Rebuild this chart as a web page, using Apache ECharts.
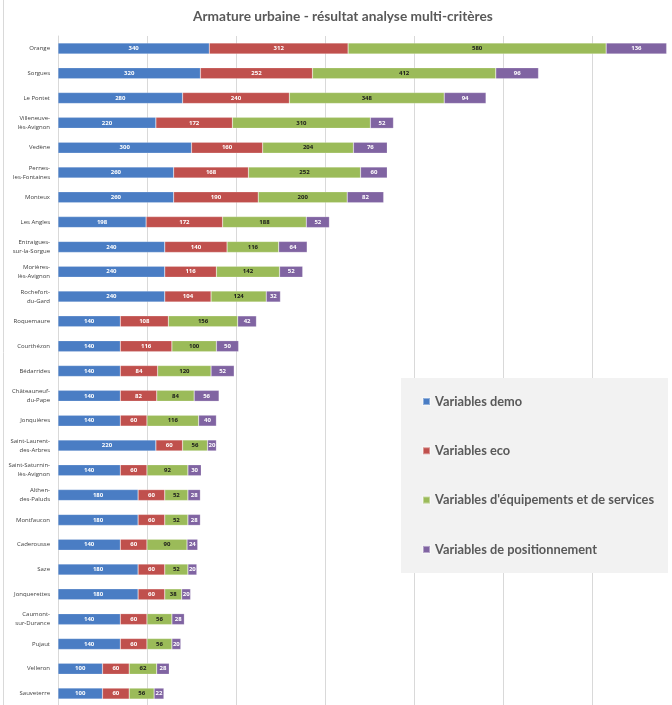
<!DOCTYPE html>
<html>
<head>
<meta charset="utf-8">
<script src="https://cdn.jsdelivr.net/npm/echarts@6/dist/echarts.min.js"></script>
<style>html,body{margin:0;padding:0;background:#fff;}#c{width:672px;height:705px;}</style>
</head>
<body>
<div id="c"></div>
<script>
const categories = [
  "Orange", "Sorgues", "Le Pontet", "Villeneuve-\nlès-Avignon", "Vedène",
  "Pernes-\nles-Fontaines", "Monteux", "Les Angles", "Entraigues-\nsur-la-Sorgue",
  "Morières-\nlès-Avignon", "Rochefort-\ndu-Gard", "Roquemaure", "Courthézon",
  "Bédarrides", "Châteauneuf-\ndu-Pape", "Jonquières", "Saint-Laurent-\ndes-Arbres",
  "Saint-Saturnin-\nlès-Avignon", "Althen-\ndes-Paluds", "Montfaucon", "Caderousse",
  "Saze", "Jonquerettes", "Caumont-\nsur-Durance", "Pujaut", "Velleron", "Sauveterre"
];
const demo = [340, 320, 280, 220, 300, 260, 260, 198, 240, 240, 240, 140, 140, 140, 140, 140, 220, 140, 180, 180, 140, 180, 180, 140, 140, 100, 100];
const eco  = [312, 252, 240, 172, 160, 168, 190, 172, 140, 116, 104, 108, 116, 84, 82, 60, 60, 60, 60, 60, 60, 60, 60, 60, 60, 60, 60];
const equip = [580, 412, 348, 310, 204, 252, 200, 188, 116, 142, 124, 156, 100, 120, 84, 116, 56, 92, 52, 52, 90, 52, 38, 56, 56, 62, 56];
const position = [136, 96, 94, 52, 76, 60, 82, 52, 64, 52, 32, 42, 50, 52, 56, 40, 20, 30, 28, 28, 24, 20, 20, 28, 20, 28, 22];
const seriesNames = ["Variables demo", "Variables eco", "Variables d'équipements et de services", "Variables de positionnement"];

const colors = ["#4a7dc4", "#c0504d", "#9bbb59", "#8064a2"];
const labelColors = ["#ffffff", "#ffffff", "#1a1a1a", "#ffffff"];
const values = [demo, eco, equip, position];

const chart = echarts.init(document.getElementById('c'));
chart.setOption({
  animation: false,
  color: colors,
  title: {
    text: "Armature urbaine - résultat analyse multi-critères",
    left: 188, top: 5,
    textStyle: { fontFamily: "Lato", fontSize: 13.7, fontWeight: "bold", color: "#595959" }
  },
  graphic: [
    { type: 'rect', shape: { x: 401, y: 378, width: 267, height: 195 }, style: { fill: '#f2f2f2' }, z: 1 },
    { type: 'line', shape: { x1: 3.5, y1: 0, x2: 3.5, y2: 705 }, style: { stroke: '#d9d9d9', lineWidth: 1 }, z: 1 }
  ],
  legend: {
    orient: 'vertical',
    left: 417, top: 389,
    itemGap: 34.3,
    itemWidth: 7, itemHeight: 7,
    icon: 'rect',
    textStyle: { fontFamily: "Lato", fontSize: 12.8, fontWeight: "bold", color: "#595959", lineHeight: 15 },
    z: 5
  },
  grid: { left: 58, right: 0, top: 36, bottom: -1, containLabel: false, outerBoundsMode: 'none' },
  xAxis: {
    type: 'value', min: 0, max: 1380, interval: 200,
    axisLabel: { show: false }, axisTick: { show: false }, axisLine: { show: false },
    splitLine: { lineStyle: { color: '#d9d9d9', width: 1 } }
  },
  yAxis: {
    type: 'category', data: categories, inverse: true,
    axisTick: { show: false },
    axisLine: { lineStyle: { color: '#d9d9d9' } },
    axisLabel: { fontFamily: "Open Sans", fontSize: 6, color: '#404040', margin: 8, lineHeight: 9 }
  },
  series: values.map((v, i) => ({
    name: seriesNames[i],
    type: 'bar',
    stack: 'total',
    barWidth: 11,
    data: v,
    itemStyle: { color: colors[i], borderColor: 'rgba(255,255,255,0.4)', borderWidth: 0.5 },
    label: {
      show: true, position: 'inside', formatter: '{c}',
      fontSize: 6, fontWeight: 'bold', color: labelColors[i], fontFamily: "Open Sans"
    }
  }))
});
</script>
</body>
</html>
